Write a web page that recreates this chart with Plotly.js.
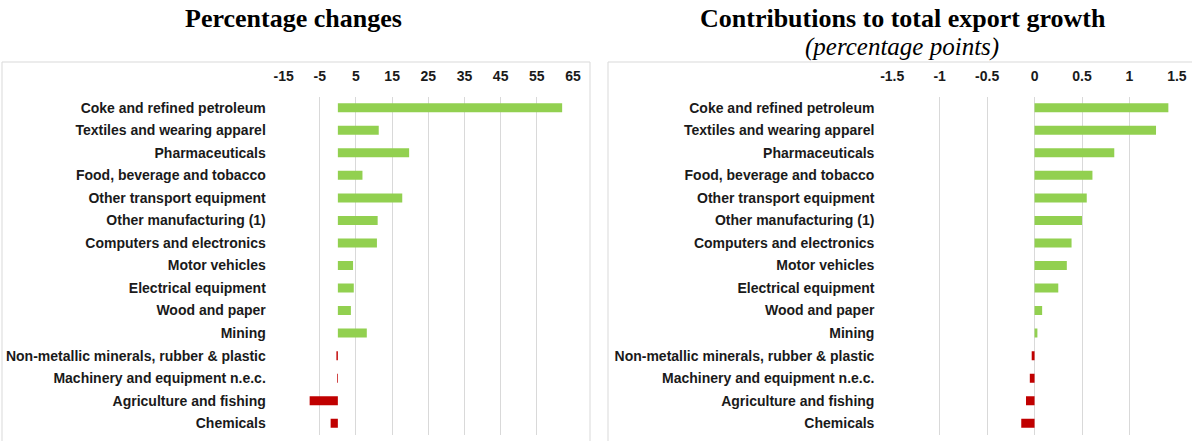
<!DOCTYPE html>
<html>
<head>
<meta charset="utf-8">
<script src="https://cdn.plot.ly/plotly-3.0.1.min.js"></script>
<style>html,body{margin:0;padding:0;background:#fff}#chart{width:1192px;height:441px}</style>
</head>
<body>
<div id="chart"></div>
<script>
const categories = [
  "Coke and refined petroleum",
  "Textiles and wearing apparel",
  "Pharmaceuticals",
  "Food, beverage and tobacco",
  "Other transport equipment",
  "Other manufacturing (1)",
  "Computers and electronics",
  "Motor vehicles",
  "Electrical equipment",
  "Wood and paper",
  "Mining",
  "Non-metallic minerals, rubber & plastic",
  "Machinery and equipment n.e.c.",
  "Agriculture and fishing",
  "Chemicals"
];
const pctChanges = [62.0, 11.3, 19.7, 6.8, 17.8, 11.0, 10.8, 4.2, 4.4, 3.6, 8.0, -0.4, -0.2, -7.8, -2.0];
const contributions = [1.41, 1.28, 0.84, 0.61, 0.55, 0.50, 0.39, 0.34, 0.25, 0.08, 0.03, -0.03, -0.05, -0.09, -0.14];

const pctTickVals = [-15, -5, 5, 15, 25, 35, 45, 55, 65];
const pctTickText = ["-15", "-5", "5", "15", "25", "35", "45", "55", "65"];
const contribTickVals = [-1.5, -1, -0.5, 0, 0.5, 1, 1.5];
const contribTickText = ["-1.5", "-1", "-0.5", "0", "0.5", "1", "1.5"];

const GREEN = "#92D050", RED = "#C00000";
const colorsFor = arr => arr.map(v => v >= 0 ? GREEN : RED);

const W = 1192, H = 441;
const px = x => x / W;
const py = y => 1 - y / H;

const labelFont = {family: "Liberation Sans, Arial, sans-serif", size: 14, color: "#1a1a1a", weight: "bold"};

const traces = [
  {type: "bar", orientation: "h", y: categories, x: pctChanges,
   marker: {color: colorsFor(pctChanges)}, xaxis: "x", yaxis: "y", hoverinfo: "x+y"},
  {type: "bar", orientation: "h", y: categories, x: contributions,
   marker: {color: colorsFor(contributions)}, xaxis: "x2", yaxis: "y2", hoverinfo: "x+y"}
];

const yDomain = [py(434.5), py(96.5)];
const xCommon = {side: "top", showgrid: true, gridcolor: "#d9d9d9", gridwidth: 1, zeroline: false,
  showline: false, ticks: "outside", ticklen: 9, tickcolor: "rgba(0,0,0,0)",
  tickmode: "array", tickfont: labelFont, fixedrange: true};
const yCommon = {type: "category", autorange: "reversed", showgrid: false, zeroline: false,
  showline: false, ticks: "outside", ticklen: 14, tickcolor: "rgba(0,0,0,0)",
  tickfont: labelFont, domain: yDomain, fixedrange: true};

const layout = {
  width: W, height: H,
  margin: {l: 0, r: 0, t: 0, b: 0},
  paper_bgcolor: "#fff", plot_bgcolor: "rgba(0,0,0,0)",
  showlegend: false,
  bargap: 0.6,
  xaxis: Object.assign({}, xCommon, {domain: [px(283.6), px(573)], range: [-15, 65],
    tickvals: pctTickVals, ticktext: pctTickText, anchor: "y"}),
  yaxis: Object.assign({}, yCommon, {anchor: "x"}),
  xaxis2: Object.assign({}, xCommon, {domain: [px(892.2), px(1176.9)], range: [-1.5, 1.5],
    tickvals: contribTickVals, ticktext: contribTickText, anchor: "y2"}),
  yaxis2: Object.assign({}, yCommon, {anchor: "x2"}),
  shapes: [
    {type: "rect", xref: "paper", yref: "paper", x0: px(2), x1: px(590), y0: py(445), y1: py(62),
     line: {color: "#d9d9d9", width: 1}, fillcolor: "rgba(0,0,0,0)", layer: "below"},
    {type: "rect", xref: "paper", yref: "paper", x0: px(608), x1: px(1196), y0: py(445), y1: py(62),
     line: {color: "#d9d9d9", width: 1}, fillcolor: "rgba(0,0,0,0)", layer: "below"}
  ],
  annotations: [
    {text: "<b>Percentage changes</b>", xref: "paper", yref: "paper", x: px(293), y: py(19),
     xanchor: "center", yanchor: "middle", showarrow: false,
     font: {family: "Liberation Serif, Times New Roman, serif", size: 26, color: "#000"}},
    {text: "<b>Contributions to total export growth</b>", xref: "paper", yref: "paper", x: px(903), y: py(19),
     xanchor: "center", yanchor: "middle", showarrow: false,
     font: {family: "Liberation Serif, Times New Roman, serif", size: 26, color: "#000"}},
    {text: "<i>(percentage points)</i>", xref: "paper", yref: "paper", x: px(902), y: py(47),
     xanchor: "center", yanchor: "middle", showarrow: false,
     font: {family: "Liberation Serif, Times New Roman, serif", size: 25, color: "#000"}}
  ]
};

Plotly.newPlot("chart", traces, layout, {displayModeBar: false, staticPlot: true});
</script>
</body>
</html>
